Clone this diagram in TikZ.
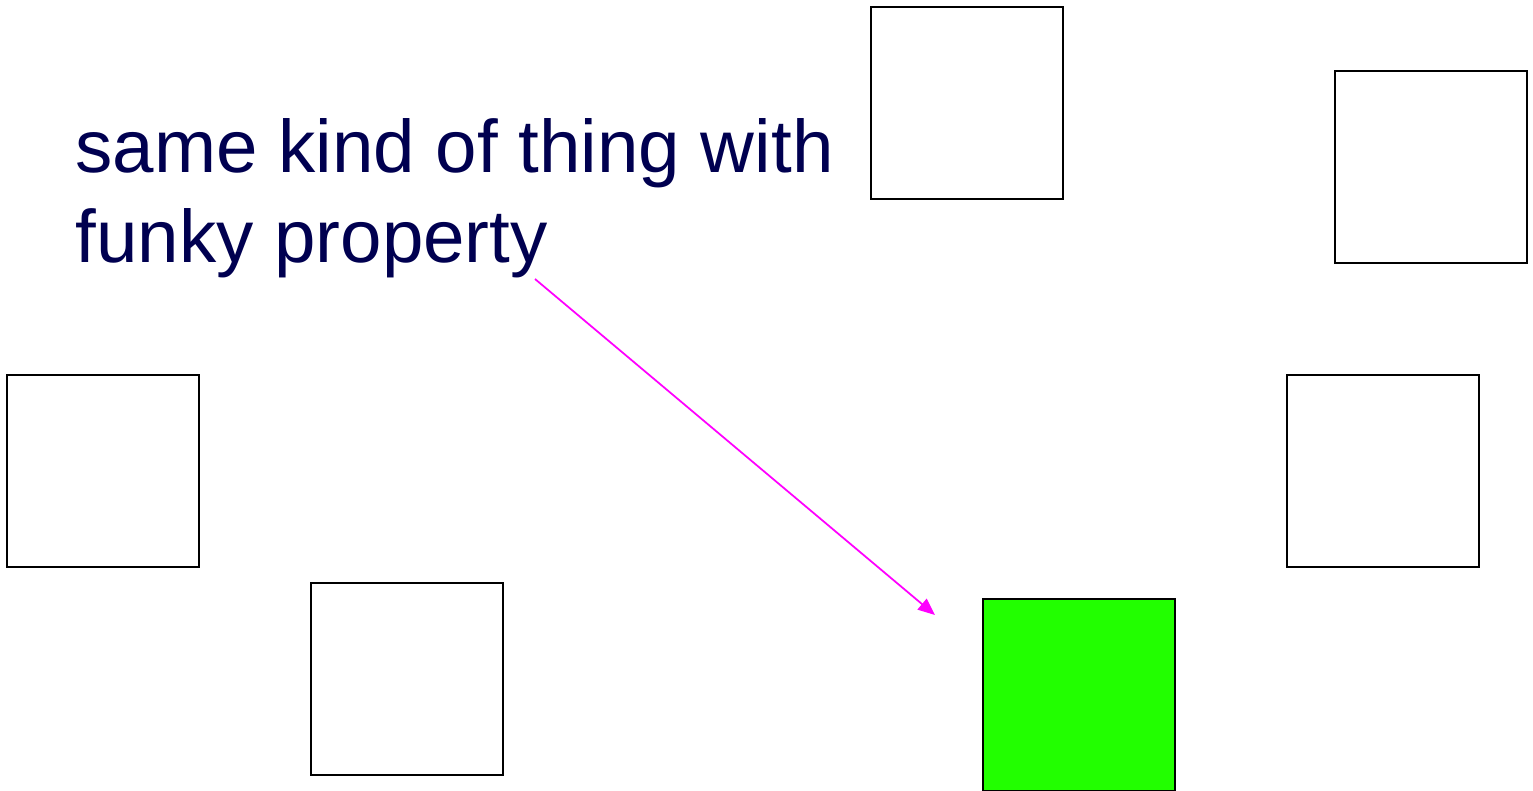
\documentclass[tikz,border=0pt]{standalone}
\usepackage{fontspec}
\setmainfont{Liberation Sans}
\usepackage{tikz}
\usetikzlibrary{arrows.meta, positioning}
\definecolor{navytext}{RGB}{0,0,80}
\definecolor{brightgreen}{RGB}{34,255,0}
\definecolor{pointer}{RGB}{255,0,255}
\begin{document}
\begin{tikzpicture}[
  thing/.style={draw=black, line width=0.6pt, minimum size=1.92cm, inner sep=0pt},
  funky/.style={thing, fill=brightgreen}]
\useasboundingbox (0,0) rectangle (15.33,7.9);
% Label (base = last line)
\node[anchor=base west, align=left, inner sep=0pt, text=navytext,
  font=\fontsize{21.2}{25.6}\selectfont] (label) at (0.75,5.28)
  {same kind of thing with\\funky property};
% Ordinary things
\node[thing] (t1) at (9.67,6.87) {};
\node[thing] (t2) at (14.31,6.23) {};
\node[thing] (t3) at (1.03,3.19) {};
\node[thing] (t4) at (13.83,3.19) {};
\node[thing] (t5) at (4.07,1.11) {};
% The one with the funky property
\node[funky] (odd) at (10.79,0.95) {};
% Pointer
\coordinate (tail) at (5.35,5.11);
\coordinate (tip) at (9.35,1.75);
\draw[pointer, line width=0.5pt, -{Triangle[length=1.7mm, width=1.4mm]}] (tail) -- (tip);
\end{tikzpicture}
\end{document}
